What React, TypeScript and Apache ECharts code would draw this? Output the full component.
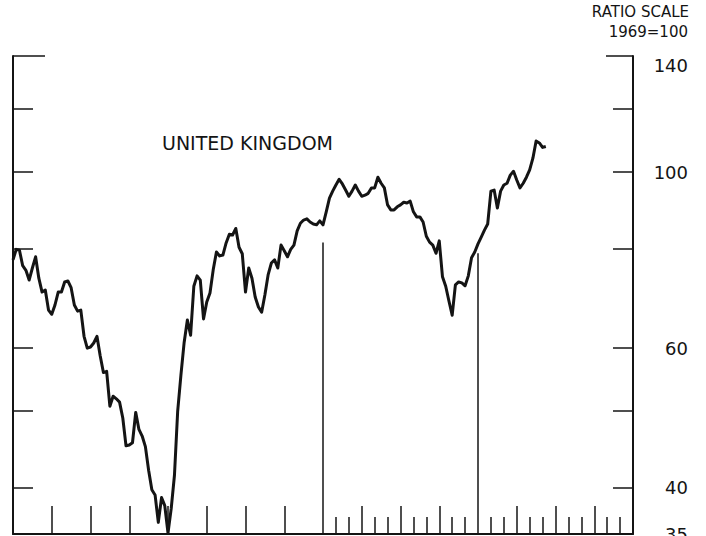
import React, { useEffect, useRef } from "react";
import * as echarts from "echarts";

// Monthly index values (1969 = 100), month 0 .. 165
const values: number[] = [
  77.5, 79.9, 79.7, 76.2, 75.2, 73.1, 75.7, 78.2, 73.5, 70.6,
  71.0, 67.0, 66.2, 68.0, 70.6, 70.6, 72.7, 72.9, 71.5, 68.0,
  66.8, 67.0, 62.1, 60.0, 60.2, 60.9, 62.1, 58.7, 55.9, 56.1,
  50.7, 52.2, 51.8, 51.3, 49.0, 45.2, 45.3, 45.6, 49.8, 47.4,
  46.5, 45.1, 42.1, 39.8, 39.2, 36.2, 38.9, 38.0, 35.1, 37.7,
  41.5, 50.0, 55.5, 61.0, 65.1, 62.3, 71.8, 74.0, 73.1, 65.3,
  68.6, 70.4, 75.3, 79.3, 78.4, 78.6, 81.4, 83.5, 83.3, 84.9,
  80.4, 78.9, 70.6, 75.7, 73.5, 69.6, 67.6, 66.6, 70.0, 74.2,
  76.8, 77.5, 75.7, 80.9, 79.6, 78.2, 79.9, 80.9, 84.3, 86.2,
  87.0, 87.3, 86.5, 86.0, 85.8, 86.8, 85.8, 89.1, 92.7, 94.6,
  96.3, 97.9, 96.6, 94.9, 93.2, 94.6, 96.3, 94.6, 93.2, 93.5,
  94.0, 95.5, 95.5, 98.5, 96.8, 95.5, 90.9, 89.6, 89.6, 90.4,
  90.9, 91.6, 91.4, 91.9, 89.1, 87.8, 87.8, 86.5, 83.0, 81.6,
  80.9, 79.0, 81.9, 73.8, 71.8, 68.8, 66.0, 72.1, 72.7, 72.5,
  71.9, 74.0, 78.0, 79.3, 81.2, 82.8, 84.5, 86.0, 94.6, 94.9,
  90.1, 94.6, 96.3, 96.8, 99.1, 100.2, 97.7, 95.5, 96.8, 98.5,
  100.6, 104.1, 109.4, 108.8, 107.4, 107.7,
];

// x axis (months)
const xMin = 0;
const xMax = 192;
const tallTicks = [12, 24, 36, 48, 60, 72, 84, 108, 120, 132, 156, 168, 180];
const shortTicks = [100, 104, 112, 116, 124, 128, 136, 140, 148, 152, 160, 164, 172, 176, 184, 188];

// period divider lines: [month, top value]
const dividers: [number, number][] = [
  [96, 81.5],
  [144, 79.0],
];

// y axis (ratio scale)
const yMin = 35;
const yMax = 140;
const yTicks = [40, 50, 60, 80, 100, 120];
const yTopTick = [140];
const yLabels = [35, 40, 60, 100, 140];

const titleText = "UNITED KINGDOM";
const scaleNote1 = "RATIO SCALE";
const scaleNote2 = "1969=100";

const INK = "#141414";
const FONT = "DejaVu Sans";

export default function App() {
  const ref = useRef<HTMLDivElement>(null);

  useEffect(() => {
    if (!ref.current) return;
    const chart = echarts.init(ref.current, null, { renderer: "svg" });

    const baseY = {
      type: "log" as const,
      logBase: 10,
      min: yMin,
      max: yMax,
      gridIndex: 0,
      splitLine: { show: false },
      minorTick: { show: false },
    };

    const baseX = {
      type: "value" as const,
      min: xMin,
      max: xMax,
      gridIndex: 0,
      position: "bottom" as const,
      splitLine: { show: false },
      axisLabel: { show: false },
    };

    chart.setOption({
      animation: false,
      backgroundColor: "#ffffff",
      grid: {
        left: 13,
        right: 73,
        top: 56,
        bottom: 2,
        containLabel: false,
        outerBoundsMode: "none",
      },
      xAxis: [
        {
          ...baseX,
          axisLine: { show: true, onZero: false, lineStyle: { color: INK, width: 2 } },
          axisTick: {
            show: true,
            inside: true,
            length: 28,
            customValues: tallTicks,
            lineStyle: { color: INK, width: 1.5 },
          },
        },
        {
          ...baseX,
          axisLine: { show: false, onZero: false },
          axisTick: {
            show: true,
            inside: true,
            length: 17,
            customValues: shortTicks,
            lineStyle: { color: INK, width: 1.5 },
          },
        },
      ],
      yAxis: [
        {
          ...baseY,
          position: "left",
          axisLine: { show: true, onZero: false, lineStyle: { color: INK, width: 2 } },
          axisTick: {
            show: true,
            inside: true,
            length: 20,
            customValues: yTicks,
            lineStyle: { color: INK, width: 1.5 },
          },
          axisLabel: { show: false },
        },
        {
          ...baseY,
          position: "right",
          axisLine: { show: true, onZero: false, lineStyle: { color: INK, width: 2 } },
          axisTick: {
            show: true,
            inside: true,
            length: 20,
            customValues: yTicks,
            lineStyle: { color: INK, width: 1.5 },
          },
          axisLabel: {
            show: true,
            customValues: yLabels,
            align: "right",
            margin: 55,
            color: INK,
            fontFamily: FONT,
            fontSize: 18,
            formatter: (v: number) =>
              Math.round(v) === 140 ? "{top|140}" : String(Math.round(v)),
            rich: {
              top: {
                padding: [18, 0, 0, 0],
                fontFamily: FONT,
                fontSize: 18,
                color: INK,
              },
            },
          },
        },
        {
          ...baseY,
          position: "left",
          axisLine: { show: false, onZero: false },
          axisTick: {
            show: true,
            inside: true,
            length: 32,
            customValues: yTopTick,
            lineStyle: { color: INK, width: 1.5 },
          },
          axisLabel: { show: false },
        },
        {
          ...baseY,
          position: "right",
          axisLine: { show: false, onZero: false },
          axisTick: {
            show: true,
            inside: true,
            length: 27,
            customValues: yTopTick,
            lineStyle: { color: INK, width: 1.5 },
          },
          axisLabel: { show: false },
        },
      ],
      series: [
        {
          type: "line",
          xAxisIndex: 0,
          yAxisIndex: 0,
          data: values.map((v, i) => [i, v]),
          showSymbol: false,
          symbol: "none",
          lineStyle: { color: INK, width: 3, join: "round" },
          markLine: {
            silent: true,
            symbol: ["none", "none"],
            label: { show: false },
            lineStyle: { color: INK, width: 1.5, type: "solid" },
            data: dividers.map(([m, top]) => [
              { coord: [m, yMin] },
              { coord: [m, top] },
            ]),
          },
        },
      ],
      graphic: [
        {
          type: "text",
          x: 162,
          y: 143,
          style: {
            text: titleText,
            fill: INK,
            font: `19px "${FONT}"`,
            align: "left",
            verticalAlign: "middle",
          },
        },
        {
          type: "text",
          x: 689,
          y: 12,
          style: {
            text: scaleNote1,
            fill: INK,
            font: `15px "${FONT}"`,
            align: "right",
            verticalAlign: "middle",
          },
        },
        {
          type: "text",
          x: 688,
          y: 32,
          style: {
            text: scaleNote2,
            fill: INK,
            font: `15px "${FONT}"`,
            align: "right",
            verticalAlign: "middle",
          },
        },
      ],
    });

    return () => {
      chart.dispose();
    };
  }, []);

  return (
    <div
      ref={ref}
      style={{
        position: "absolute",
        left: 0,
        top: 0,
        width: 706,
        height: 536,
        background: "#ffffff",
      }}
    />
  );
}
